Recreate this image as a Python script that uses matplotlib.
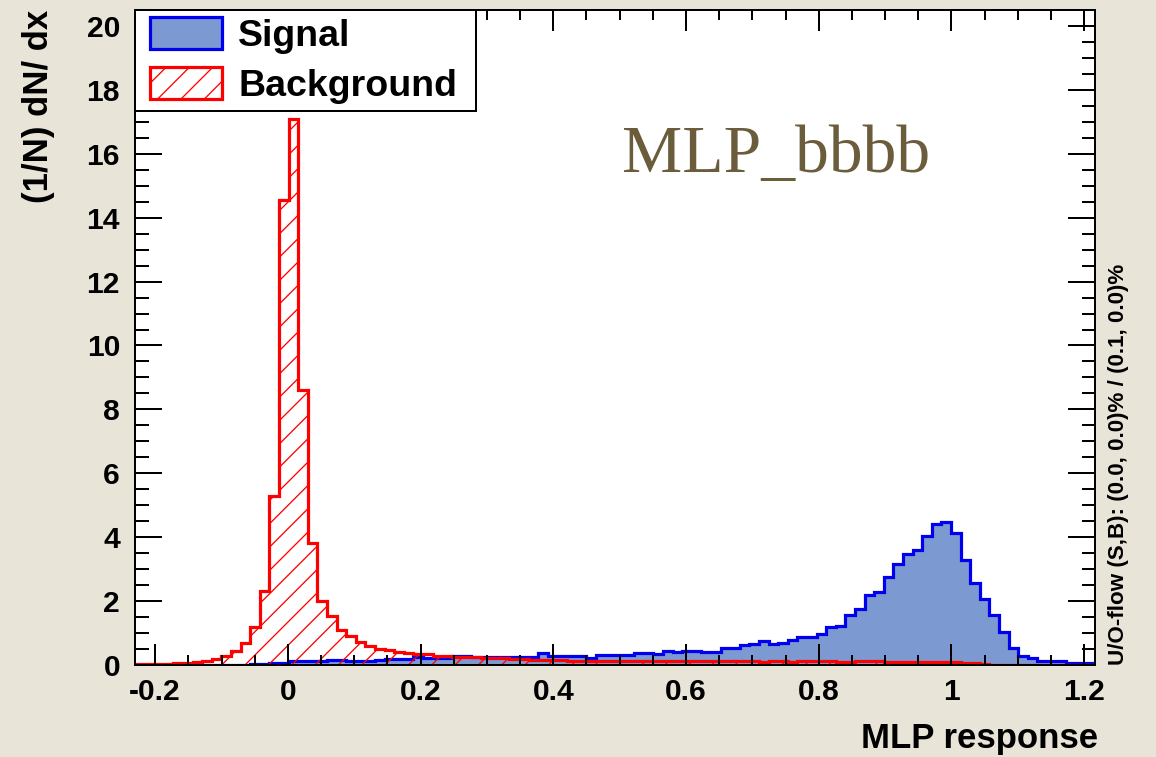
import numpy as np
import matplotlib
matplotlib.use("Agg")
import matplotlib.pyplot as plt
from matplotlib.ticker import MultipleLocator, FixedLocator, FuncFormatter
from matplotlib.legend_handler import HandlerPatch
from matplotlib.patches import Rectangle, StepPatch

# ---------------- data ----------------
x_range = (-0.2305, 1.2165)
n_bins = 100

signal = [
    0.00, 0.00, 0.00, 0.00, 0.01, 0.01, 0.01, 0.01, 0.01, 0.01,
    0.01, 0.01, 0.02, 0.02, 0.06, 0.07, 0.13, 0.14, 0.14, 0.14,
    0.17, 0.17, 0.14, 0.13, 0.13, 0.17, 0.18, 0.20, 0.20, 0.24,
    0.22, 0.22, 0.23, 0.27, 0.27, 0.25, 0.25, 0.25, 0.25, 0.26,
    0.25, 0.25, 0.37, 0.27, 0.27, 0.27, 0.27, 0.22, 0.31, 0.32,
    0.32, 0.32, 0.37, 0.38, 0.35, 0.44, 0.40, 0.45, 0.45, 0.41,
    0.41, 0.52, 0.52, 0.64, 0.65, 0.75, 0.67, 0.70, 0.78, 0.87,
    0.87, 0.97, 1.18, 1.23, 1.55, 1.74, 2.19, 2.30, 2.74, 3.16,
    3.47, 3.60, 4.04, 4.41, 4.48, 4.14, 3.29, 2.56, 2.06, 1.56,
    1.02, 0.54, 0.28, 0.21, 0.11, 0.11, 0.12, 0.07, 0.05, 0.05,
]

background = [
    0.03, 0.03, 0.03, 0.04, 0.05, 0.07, 0.10, 0.14, 0.19, 0.28,
    0.44, 0.68, 1.20, 2.32, 5.29, 14.55, 17.09, 8.61, 3.81, 2.00,
    1.54, 1.10, 0.91, 0.73, 0.58, 0.50, 0.46, 0.41, 0.39, 0.34,
    0.33, 0.29, 0.28, 0.26, 0.26, 0.25, 0.22, 0.21, 0.21, 0.20,
    0.20, 0.17, 0.17, 0.15, 0.15, 0.14, 0.14, 0.14, 0.13, 0.13,
    0.13, 0.13, 0.12, 0.13, 0.12, 0.12, 0.12, 0.11, 0.12, 0.11,
    0.11, 0.12, 0.11, 0.11, 0.11, 0.10, 0.11, 0.11, 0.10, 0.11,
    0.12, 0.11, 0.12, 0.10, 0.10, 0.11, 0.12, 0.11, 0.10, 0.10,
    0.10, 0.10, 0.10, 0.09, 0.09, 0.09, 0.06, 0.05, 0.02, 0.01,
    0.01, 0.01, 0.01, 0.01, 0.00, 0.00, 0.01, 0.00, 0.00, 0.00,
]

series_labels = ["Signal", "Background"]
x_major_ticks = [-0.2, 0.0, 0.2, 0.4, 0.6, 0.8, 1.0, 1.2]
y_major_ticks = [0, 2, 4, 6, 8, 10, 12, 14, 16, 18, 20]
y_max = 20.5
x_title = "MLP response"
y_title = "(1/N) dN/ dx"
overflow_text = "U/O-flow (S,B): (0.0, 0.0)% / (0.1, 0.0)%"
method_text = "MLP_bbbb"

# ---------------- styling ----------------
DPI = 140
W, H = 1156, 757


def pt(px):
    return px * 72.0 / DPI


plt.rcParams["font.family"] = ["Liberation Sans", "DejaVu Sans"]
plt.rcParams["font.weight"] = "bold"
plt.rcParams["hatch.linewidth"] = pt(1.3)

fig = plt.figure(figsize=(W / DPI, H / DPI), dpi=DPI, facecolor="#e8e4d8")
L, R, T, B = 135, 1095, 10, 665
ax = fig.add_axes([L / W, 1 - B / H, (R - L) / W, (B - T) / H])
ax.set_facecolor("white")

edges = np.linspace(x_range[0], x_range[1], n_bins + 1)
ax.stairs(signal, edges, fill=True, facecolor="#7d99d1", edgecolor="#0000ee",
          linewidth=pt(3.2), label=series_labels[0], zorder=1)
ax.stairs(background, edges, fill=True, facecolor="none", edgecolor="#ff0000",
          hatch="//", linewidth=pt(3.2), label=series_labels[1], zorder=1.5)

ax.set_xlim(*x_range)
ax.set_ylim(0, y_max)

ax.xaxis.set_major_locator(FixedLocator(x_major_ticks))
ax.xaxis.set_minor_locator(MultipleLocator(0.05))
ax.yaxis.set_major_locator(FixedLocator(y_major_ticks))
ax.yaxis.set_minor_locator(MultipleLocator(0.5))
ax.xaxis.set_major_formatter(FuncFormatter(lambda v, p: "%g" % round(v, 6)))
ax.yaxis.set_major_formatter(FuncFormatter(lambda v, p: "%g" % v))

ax.tick_params(which="both", direction="in", top=True, right=True,
               width=pt(2), color="black")
ax.tick_params(axis="x", which="major", length=pt(21), labelsize=pt(30), pad=pt(13))
ax.tick_params(axis="x", which="minor", length=pt(10))
ax.tick_params(axis="y", which="major", length=pt(27), labelsize=pt(30), pad=pt(15))
ax.tick_params(axis="y", which="minor", length=pt(13.5))
for s in ax.spines.values():
    s.set_linewidth(pt(2))

ax.set_xlabel(x_title, loc="right", fontsize=pt(34.8), fontweight="bold")
ax.xaxis.label.set_va("baseline")
ax.xaxis.set_label_coords((1098 - L) / (R - L), (B - 748) / (B - T))
ax.set_ylabel(y_title, loc="top", fontsize=pt(34.8), fontweight="bold")
ax.yaxis.set_label_coords((55 - L) / (R - L), 1.0)

# legend: swatch shifted right inside its handle box (ROOT-like layout)
LEG_FS = 37.5  # px
SW_OFF = pt(8)


def swatch(legend, orig_handle, xdescent, ydescent, width, height, fontsize):
    return Rectangle((-xdescent + SW_OFF, -ydescent), width - SW_OFF, height)


leg = ax.legend(loc="upper left", bbox_to_anchor=(0, 0, (476 - L) / (R - L), 1),
                mode="expand", borderaxespad=0,
                prop={"size": pt(LEG_FS), "weight": "bold"},
                handlelength=80 / LEG_FS, handleheight=35 / LEG_FS,
                handletextpad=16 / LEG_FS, borderpad=0.19, labelspacing=0.35,
                handler_map={StepPatch: HandlerPatch(patch_func=swatch)},
                frameon=True, fancybox=False, framealpha=1, edgecolor="black")
leg.get_frame().set_linewidth(pt(2))
leg.set_zorder(2)

fig.text(1118 / W, 1 - 665 / H, overflow_text, rotation=90, ha="center",
         va="bottom", fontsize=pt(22.4), fontweight="bold")
fig.text(622 / W, 1 - 172 / H, method_text, ha="left", va="baseline",
         fontsize=pt(67.6), fontweight="normal", color="#6b5c3c",
         family=["Liberation Serif", "DejaVu Serif"])

fig.savefig("out.png", dpi=DPI, facecolor=fig.get_facecolor())
